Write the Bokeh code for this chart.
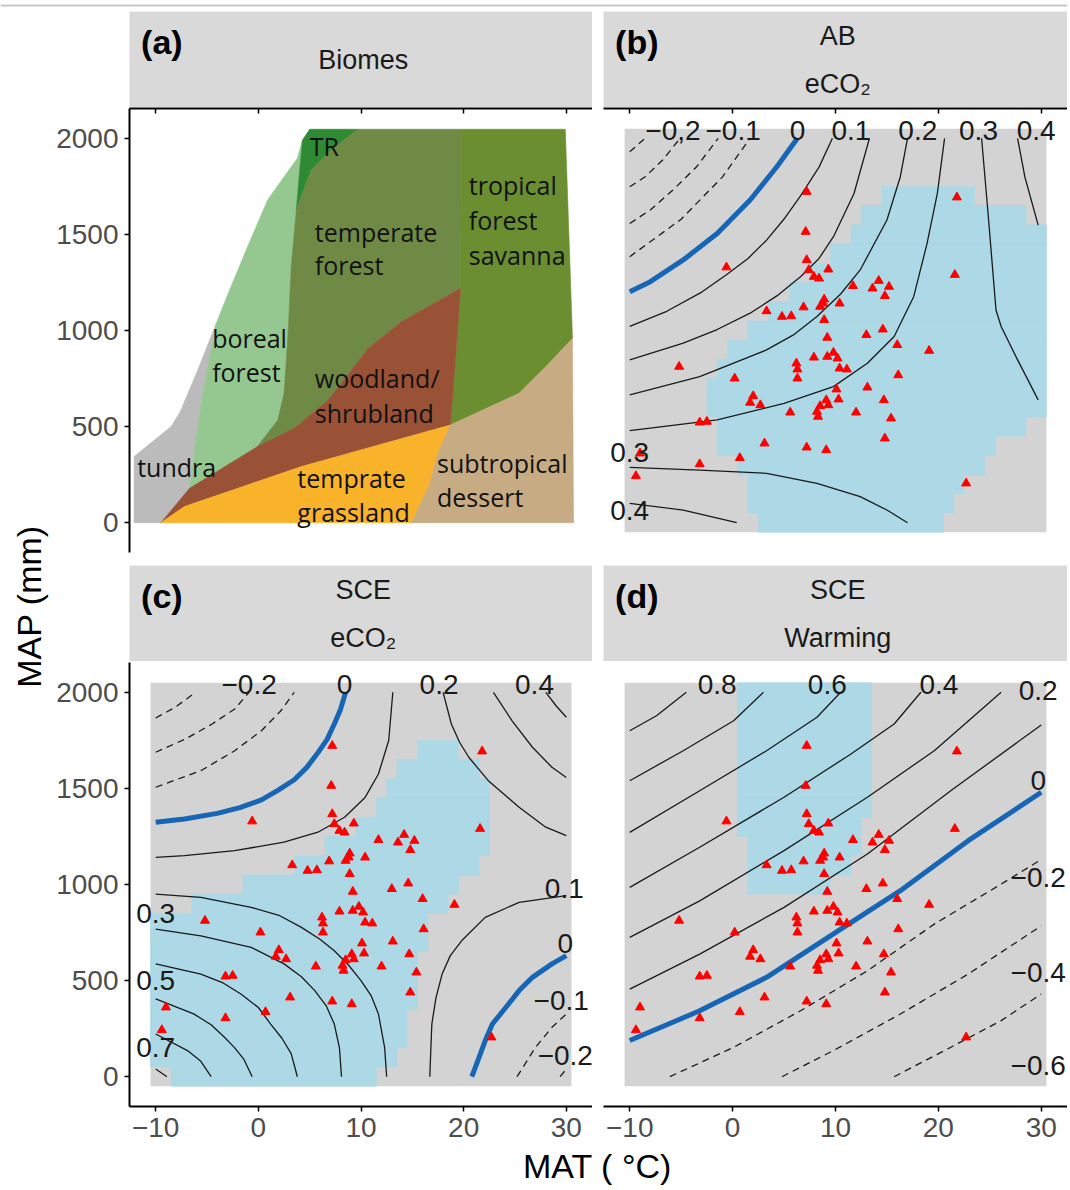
import math
from bokeh.plotting import figure
from bokeh.models import Range1d, LinearAxis, FixedTicker, Span
from bokeh.layouts import row, column
from bokeh.embed import file_html
from bokeh.resources import INLINE
from bokeh.core.properties import value

FONT = "Liberation Sans"
BIOME_FONT = "Open Sans"

# ---------------- axes ----------------
X_TICKS = [-10, 0, 10, 20, 30]
Y_TICKS = [0, 500, 1000, 1500, 2000]
X_LIM = (-12.55, 32.55)
Y_LIM = (-155, 2155)

# model grid: first centre, last centre, step
GRID_MAT = (-10, 30, 1)
GRID_MAP = (0, 2000, 100)

# ---------------- sites (MAT °C, MAP mm) ----------------
SITE_MAT = [7.2, 21.8, 7.1, -0.6, 7.2, 7.4, 9.3, 7.9, 8.4, 21.6,
            11.7, 14.2, 13.6, 15.2, 14.8, 8.9, 8.8, 10.4, 3.3, 4.8,
            5.7, 6.9, 8.5, 8.9, 14.6, 13.0, 9.2, 16.0, 19.1, 7.9,
            9.2, 9.8, 10.2, 6.2, 6.3, 10.4, 11.1, -5.2, 0.2, 6.3,
            16.1, 10.1, 13.1, 2.0, 1.7, 2.7, 10.3, 9.1, 9.3, 14.7,
            8.5, 8.2, 5.6, 12.0, 8.3, 15.4, -3.2, -2.5, 14.8, 3.1,
            7.2, 9.1, 0.7, -9.0, -3.2, -9.4, 22.7]
SITE_MAP = [1722, 1693, 1514, 1329, 1367, 1315, 1318, 1280, 1271, 1290,
            1232, 1259, 1219, 1228, 1180, 1162, 1141, 1141, 1101, 1072,
            1075, 1121, 1124, 1055, 1006, 977, 963, 925, 895, 860,
            864, 885, 855, 829, 798, 803, 798, 812, 751, 751,
            768, 694, 704, 659, 625, 612, 642, 638, 612, 638,
            607, 578, 574, 574, 552, 543, 522, 526, 439, 413,
            392, 378, 337, 361, 305, 243, 205]

# ---------------- (a) biomes ----------------
BIOME_NAMES = ["tundra", "boreal forest", "temperate rainforest", "temperate forest",
               "tropical forest savanna", "woodland/shrubland", "temperate grassland",
               "subtropical desert"]
BIOME_COLORS = ["#BBBBBB", "#95C891", "#2E8B33", "#6E8A45",
                "#6A8E30", "#9A5237", "#F8B32A", "#C7AB83"]
BIOME_MAT = [
    [-12.1, -12.1, -8.5, -7.6, -5.9, -4.1, -5.3, -6.1, -6.7, -9.5],
    [-6.7, -6.1, -5.3, -4.1, -2.8, -1.05, 0.9, 2.4, 3.8, 4.3, 4.0, 3.7, 3.2, 2.9, 2.5, 1.9, -0.1],
    [4.3, 5.0, 9.7, 7.1, 5.15, 3.7, 4.0],
    [9.7, 19.8, 19.7, 13.95, 10.7, 6.8, 3.5, -0.1, 1.9, 2.5, 2.9, 3.2, 3.7, 5.15, 7.1],
    [19.8, 29.9, 30.6, 28.0, 25.4, 18.7, 19.2, 19.7],
    [-9.5, -6.7, -0.1, 3.5, 6.8, 10.7, 13.95, 19.7, 19.2, 18.7, 4.2, -7.2],
    [-9.5, -7.2, 4.2, 18.7, 17.5, 16.6, 14.9],
    [14.9, 16.6, 17.5, 18.7, 25.4, 28.0, 30.6, 30.7],
]
BIOME_MAP = [
    [0, 344, 500, 578, 795, 1037, 707, 430, 179, 0],
    [179, 430, 707, 1037, 1211, 1436, 1679, 1792, 1896, 1991, 1818, 1627, 1332, 985, 673, 535, 396],
    [1991, 2047, 2047, 1939, 1835, 1627, 1818],
    [2047, 2047, 1220, 1046, 907, 638, 491, 396, 535, 673, 985, 1332, 1627, 1835, 1939],
    [2047, 2047, 959, 812, 673, 508, 846, 1220],
    [0, 179, 396, 491, 638, 907, 1046, 1220, 846, 508, 292, 84],
    [0, 84, 292, 508, 361, 188, 0],
    [0, 188, 361, 508, 673, 812, 959, 0],
]
BIOME_LABEL_TEXT = ["TR", "temperate", "forest", "tropical", "forest", "savanna",
                    "boreal", "forest", "woodland/", "shrubland", "tundra",
                    "temprate", "grassland", "subtropical", "dessert"]
BIOME_LABEL_MAT = [5.0, 5.5, 5.5, 20.5, 20.5, 20.5, -4.5, -4.5, 5.5, 5.5, -11.8,
                   3.8, 3.8, 17.4, 17.4]
BIOME_LABEL_MAP = [1960, 1514, 1341, 1757, 1575, 1393, 959, 786, 751, 569, 292,
                   231, 57, 309, 135]

# ---------------- (b) AB, eCO2 ----------------
B_MASK_MAP = [1700, 1600, 1500, 1400, 1300, 1200, 1100, 1000, 900, 800, 700, 600, 500, 400, 300, 200, 100, 0]
B_MASK_FIRST = [15, 13, 12, 10, 8, 6, 4, 2, 0, -1, -2, -2, -1, -1, 1, 2, 2, 3]
B_MASK_LAST = [23, 28, 30, 30, 30, 30, 30, 30, 30, 30, 30, 30, 28, 25, 24, 22, 21, 20]
B_LINE_LEVEL = [-0.2, -0.15, -0.1, -0.05, 0, 0.05, 0.1, 0.15, 0.2, 0.25, 0.3, 0.25, 0.3]
B_LINE_MAT = [
    [-10.0, -8.5],
    [-10.0, -8.5, -6.8, -5.1],
    [-10.0, -8.0, -5.8, -3.5, -1.4],
    [-10.0, -5.0, -1.0, 1.7],
    [-10.0, -8.0, -4.8, -1.5, 1.7, 4.3, 6.3],
    [-10.0, -6.4, -3.0, -0.6, 1.5, 3.3, 5.0, 6.6, 8.4, 9.7],
    [-10.0, -4.8, -1.5, 1.7, 4.3, 6.6, 8.4, 9.8, 11.8, 13.3],
    [-10.0, -3.2, 3.3, 6.0, 8.2, 10.5, 12.4, 15.0, 16.3, 17.0],
    [-10.0, -1.5, 5.0, 9.8, 13.1, 15.7, 17.6, 18.9, 19.9, 20.6],
    [-10.0, -3.2, 3.3, 8.2, 12.4, 15.0, 17.0],
    [-10.0, -4.8, 0.4],
    [24.2, 24.8, 25.6, 26.1, 27.7, 29.7],
    [27.7, 28.4, 29.7],
]
B_LINE_MAP = [
    [1930, 2000],
    [1748, 1800, 1887, 2000],
    [1557, 1627, 1731, 1852, 2000],
    [1384, 1579, 1798, 2000],
    [1202, 1254, 1367, 1505, 1679, 1852, 2000],
    [1021, 1100, 1200, 1290, 1375, 1470, 1580, 1700, 1850, 2000],
    [847, 934, 1005, 1090, 1180, 1280, 1375, 1488, 1713, 2000],
    [665, 760, 899, 980, 1073, 1190, 1315, 1575, 1800, 2000],
    [479, 535, 621, 708, 830, 969, 1176, 1453, 1713, 2000],
    [288, 274, 257, 205, 136, 66, 0],
    [101, 66, 0],
    [2000, 1627, 1107, 1021, 847, 639],
    [2000, 1800, 1548],
]
B_LABEL_TEXT = ["−0,2", "−0.1", "0", "0.1", "0.2", "0.3", "0.4", "0.3", "0.4"]
B_LABEL_MAT = [-5.8, 0.05, 6.3, 11.5, 18.0, 23.9, 29.5, -10.0, -10.0]
B_LABEL_MAP = [2043, 2043, 2043, 2043, 2043, 2043, 2043, 363, 61]

# ---------------- (c) SCE, eCO2 ----------------
C_MASK_MAP = [1700, 1600, 1500, 1400, 1300, 1200, 1100, 1000, 900, 800, 700, 600, 500, 400, 300, 200, 100, 0]
C_MASK_FIRST = [16, 14, 13, 12, 10, 7, 4, -1, -6, -10, -10, -10, -10, -10, -10, -10, -10, -8]
C_MASK_LAST = [19, 21, 22, 22, 22, 22, 21, 19, 18, 16, 16, 15, 15, 15, 14, 14, 13, 11]
C_LINE_LEVEL = [-0.3, -0.2, -0.1, 0, 0.1, 0.2, 0.3, 0.4, 0.5, 0.6, 0.7,
                0.2, 0.3, 0.4, 0.1, 0, -0.1, -0.2]
C_LINE_MAT = [
    [-10.0, -8.1, -6.1],
    [-10.0, -7.1, -4.5, -2.3, -0.9],
    [-10.0, -5.6, -2.3, 0.3, 2.2, 3.5],
    [-10.0, -7.2, -4.0, -1.8, 0.3, 1.9, 3.5, 4.7, 5.8, 6.7, 7.4, 8.0, 8.5],
    [-10.0, -7.2, -2.3, 2.5, 5.8, 8.4, 10.4, 11.7, 12.7, 13.1],
    [-10.0, -5.6, -0.7, 2.0, 4.2, 6.0, 7.4, 8.8, 10.0, 11.0, 11.7, 12.3, 12.5],
    [-10.0, -5.6, -0.7, 2.5, 4.2, 5.5, 6.6, 7.4, 7.9, 8.1],
    [-10.0, -5.6, -3.5, -1.7, 0.0, 1.2, 2.3, 3.2, 3.8],
    [-10.0, -6.3, -4.6, -3.3, -2.3, -1.4, -0.6],
    [-10.0, -6.9, -5.6, -4.6],
    [-10.0, -8.9],
    [18.0, 18.8, 19.6, 20.5, 22.4, 25.4, 28.0, 30.0],
    [22.9, 24.7, 26.7, 28.6, 30.0],
    [28.0, 29.0, 30.0],
    [16.7, 16.8, 16.9, 17.3, 17.9, 18.7, 19.8, 22.1, 25.4, 30.0],
    [20.8, 21.5, 22.1, 22.8, 24.1, 25.4, 26.7, 28.6, 30.0],
    [25.2, 27.0, 28.6, 30.0],
    [29.4, 30.0],
]
C_LINE_MAP = [
    [1866, 1922, 2000],
    [1688, 1757, 1835, 1913, 2000],
    [1506, 1592, 1696, 1800, 1904, 2000],
    [1324, 1341, 1370, 1400, 1440, 1490, 1545, 1608, 1685, 1755, 1835, 1910, 2000],
    [1141, 1150, 1176, 1220, 1272, 1350, 1453, 1575, 1749, 2000],
    [950, 933, 881, 840, 777, 715, 655, 580, 500, 420, 326, 153, 0],
    [768, 733, 673, 587, 520, 448, 370, 274, 150, 0],
    [587, 534, 490, 430, 360, 274, 200, 120, 0],
    [405, 327, 270, 205, 150, 90, 0],
    [222, 136, 80, 0],
    [40, 0],
    [2000, 1835, 1740, 1662, 1540, 1402, 1298, 1254],
    [2000, 1853, 1714, 1610, 1557],
    [2000, 1930, 1870],
    [0, 140, 274, 410, 534, 630, 707, 829, 907, 942],
    [0, 100, 188, 274, 360, 448, 517, 587, 630],
    [0, 153, 257, 326],
    [0, 40],
]
C_LABEL_TEXT = ["−0.2", "0", "0.2", "0.4", "0.1", "0", "−0.1", "−0.2", "0.3", "0.5", "0.7"]
C_LABEL_MAT = [-0.9, 8.4, 17.6, 26.9, 29.8, 29.9, 29.5, 29.9, -10.0, -10.0, -10.0]
C_LABEL_MAP = [2040, 2040, 2040, 2040, 978, 692, 395, 109, 848, 499, 151]

# ---------------- (d) SCE, warming ----------------
D_MASK_MAP = [2000, 1900, 1800, 1700, 1600, 1500, 1400, 1300, 1200, 1100, 1000]
D_MASK_FIRST = [1, 1, 1, 1, 1, 1, 1, 1, 2, 2, 2]
D_MASK_LAST = [13, 13, 13, 13, 13, 13, 13, 12, 12, 11, 9]
D_LINE_LEVEL = [0.6, 0.5, 0.4, 0.3, 0.2, 0.1, 0, -0.1, -0.2, -0.3]
D_LINE_MAT = [
    [-10.0, -7.4, -4.5],
    [-10.0, -4.8, 0.1, 3.0],
    [-10.0, -3.2, 3.3, 8.2, 10.5],
    [-10.0, -3.2, 5.0, 11.5, 15.7, 18.3],
    [-10.0, -3.2, 5.0, 13.1, 19.6, 26.1],
    [-10.0, -3.2, 5.0, 13.1, 21.2, 30.0],
    [-10.0, -3.2, 3.3, 9.8, 16.3, 22.9, 30.0],
    [-6.1, 0.1, 6.6, 13.1, 19.6, 26.1, 30.0],
    [4.8, 9.8, 16.3, 22.9, 30.0],
    [15.7, 21.2, 26.1, 30.0],
]
D_LINE_MAP = [
    [1800, 1878, 2000],
    [1540, 1696, 1852, 2000],
    [1271, 1488, 1696, 1870, 2000],
    [985, 1194, 1454, 1679, 1835, 2000],
    [725, 915, 1176, 1454, 1696, 2000],
    [456, 638, 881, 1159, 1488, 1830],
    [188, 343, 517, 743, 968, 1228, 1480],
    [0, 153, 343, 551, 794, 1002, 1130],
    [0, 136, 326, 534, 785],
    [0, 153, 292, 430],
]
D_LABEL_TEXT = ["0.8", "0.6", "0.4", "0.2", "0", "−0.2", "−0.4", "−0.6"]
D_LABEL_MAT = [-1.5, 9.2, 20.05, 29.7, 29.7, 29.7, 29.7, 29.7]
D_LABEL_MAP = [2040, 2040, 2040, 2008, 1540, 1037, 543, 57]

# ---------------- strips ----------------
STRIP_TAGS = ["(a)", "(b)", "(c)", "(d)"]
STRIP_LINES = [["Biomes"], ["AB", "eCO₂"], ["SCE", "eCO₂"], ["SCE", "Warming"]]

# ---------------- style / layout ----------------
FRAME_H = 444
LEFT_W, RIGHT_W = 463, 464
LEFT_PAD, GAP = 80, 11
TITLE_W = 49
TOP_H = 11
GRAY = "#D3D3D3"
STRIP_BG = "#D9D9D9"
SIG = "#ADD8E6"
BLUE = "#1766B5"
INK = "#1A1A1A"


def blank_fig(w, h, xr, yr):
    p = figure(frame_width=w, frame_height=h, x_range=Range1d(*xr), y_range=Range1d(*yr),
               min_border=0, x_axis_location=None, y_axis_location=None,
               output_backend="svg", toolbar_location=None)
    p.outline_line_color = None
    p.grid.visible = False
    return p


def panel_fig(left, frame_w, top, bottom):
    p = figure(frame_width=frame_w, frame_height=FRAME_H,
               x_range=Range1d(*X_LIM), y_range=Range1d(*Y_LIM),
               min_border_left=left, min_border_right=0,
               min_border_top=top, min_border_bottom=bottom,
               x_axis_location=None, y_axis_location=None,
               output_backend="svg", toolbar_location=None)
    p.outline_line_color = None
    p.grid.visible = False
    return p


def add_axis(p, side, labels=True, ticks_in=False):
    ticks = X_TICKS if side in ("above", "below") else Y_TICKS
    ax = LinearAxis(ticker=FixedTicker(ticks=ticks))
    ax.axis_line_color = "black"
    ax.axis_line_width = 2
    ax.major_tick_line_color = "black"
    ax.major_tick_line_width = 1.5
    ax.minor_tick_line_color = None
    ax.major_tick_in = 5 if ticks_in else 0
    ax.major_tick_out = 0 if ticks_in else 5
    if labels:
        ax.major_label_text_font = FONT
        ax.major_label_text_font_size = "28px"
        ax.major_label_text_color = "#4D4D4D"
        ax.major_label_standoff = 6
        ax.major_label_overrides = {t: str(t).replace("-", "−") for t in ticks if t < 0}
    else:
        ax.major_label_overrides = {t: "" for t in ticks}
        ax.major_label_text_font_size = "1px"
        ax.major_label_text_color = None
        ax.major_label_standoff = 0
    p.add_layout(ax, side)


def draw_surface(p, mask_map, mask_first, mask_last, levels, mats, maps,
                 lab_text, lab_mat, lab_map):
    t0, t1, dt = GRID_MAT
    m0, m1, dm = GRID_MAP
    p.quad(left=[t0 - dt / 2], right=[t1 + dt / 2], bottom=[m0 - dm / 2], top=[m1 + dm / 2],
           fill_color=GRAY, line_color=None)
    p.quad(left=[f - dt / 2 for f in mask_first], right=[l + dt / 2 for l in mask_last],
           bottom=[m - dm / 2 for m in mask_map], top=[m + dm / 2 for m in mask_map],
           fill_color=SIG, line_color=SIG, line_width=0.6)
    pos = [(x, y) for lv, x, y in zip(levels, mats, maps) if lv > 0]
    neg = [(x, y) for lv, x, y in zip(levels, mats, maps) if lv < 0]
    zero = [(x, y) for lv, x, y in zip(levels, mats, maps) if lv == 0]
    if pos:
        p.multi_line([a for a, b in pos], [b for a, b in pos], line_color=INK, line_width=1.3,
                     line_join="round")
    if neg:
        p.multi_line([a for a, b in neg], [b for a, b in neg], line_color=INK, line_width=1.3,
                     line_dash="7 5")
    if zero:
        p.multi_line([a for a, b in zero], [b for a, b in zero], line_color=BLUE, line_width=5,
                     line_join="round")
    p.scatter(SITE_MAT, SITE_MAP, marker="triangle", size=9,
              fill_color="#FF0000", line_color="#FF0000")
    p.text(lab_mat, lab_map, text=lab_text, text_font=value(FONT),
           text_font_size=value("28px"), text_color=INK,
           text_align="center", text_baseline="middle")


def strip_fig(left, frame_w, tag, lines):
    p = figure(frame_width=frame_w, frame_height=96,
               x_range=Range1d(0, 1), y_range=Range1d(0, 1),
               min_border_left=left, min_border_right=0,
               min_border_top=0, min_border_bottom=0,
               x_axis_location=None, y_axis_location=None,
               output_backend="svg", toolbar_location=None)
    p.outline_line_color = None
    p.grid.visible = False
    p.background_fill_color = STRIP_BG
    p.text([0.025], [0.68], text=[tag], text_font=value(FONT), text_font_size=value("34px"),
           text_font_style="bold", text_color="black", text_align="left",
           text_baseline="middle")
    ys = [0.5] if len(lines) == 1 else [0.74, 0.25]
    p.text([0.505] * len(lines), ys, text=lines, text_font=value(FONT),
           text_font_size=value("27px"), text_color=INK, text_align="center",
           text_baseline="middle")
    return p


# strips
sa = strip_fig(LEFT_PAD, LEFT_W, STRIP_TAGS[0], STRIP_LINES[0])
sb = strip_fig(GAP, RIGHT_W, STRIP_TAGS[1], STRIP_LINES[1])
sc = strip_fig(LEFT_PAD, LEFT_W, STRIP_TAGS[2], STRIP_LINES[2])
sd = strip_fig(GAP, RIGHT_W, STRIP_TAGS[3], STRIP_LINES[3])

# panel a
pa = panel_fig(LEFT_PAD, LEFT_W, 1, 13)
pa.patches(BIOME_MAT, BIOME_MAP, fill_color=BIOME_COLORS, line_color=BIOME_COLORS, line_width=0.6)
pa.text(BIOME_LABEL_MAT, BIOME_LABEL_MAP, text=BIOME_LABEL_TEXT, text_font=value(BIOME_FONT),
        text_font_size=value("25px"), text_color="#111111", text_align="left",
        text_baseline="middle")
add_axis(pa, "left")
add_axis(pa, "above", labels=False, ticks_in=True)

# panel b
pb = panel_fig(GAP, RIGHT_W, 1, 13)
draw_surface(pb, B_MASK_MAP, B_MASK_FIRST, B_MASK_LAST, B_LINE_LEVEL, B_LINE_MAT, B_LINE_MAP,
             B_LABEL_TEXT, B_LABEL_MAT, B_LABEL_MAP)
add_axis(pb, "above", labels=False, ticks_in=True)

# panel c
pc = panel_fig(LEFT_PAD, LEFT_W, 1, 38)
draw_surface(pc, C_MASK_MAP, C_MASK_FIRST, C_MASK_LAST, C_LINE_LEVEL, C_LINE_MAT, C_LINE_MAP,
             C_LABEL_TEXT, C_LABEL_MAT, C_LABEL_MAP)
add_axis(pc, "left")
add_axis(pc, "below")

# panel d
pd_ = panel_fig(GAP, RIGHT_W, 1, 38)
draw_surface(pd_, D_MASK_MAP, D_MASK_FIRST, D_MASK_LAST, D_LINE_LEVEL, D_LINE_MAT, D_LINE_MAP,
             D_LABEL_TEXT, D_LABEL_MAT, D_LABEL_MAP)
add_axis(pd_, "below")

# axis titles and page rule
XT_H = 44
BODY_H = 96 + (1 + FRAME_H + 13) + 96 + (1 + FRAME_H + 38) + XT_H
XT_W = LEFT_PAD + LEFT_W + GAP + RIGHT_W
PAGE_W = TITLE_W + XT_W

top = blank_fig(PAGE_W, TOP_H, (0, PAGE_W), (0, TOP_H))
top.add_layout(Span(location=TOP_H - 4, dimension="width", line_color="#C8C8C8", line_width=2))

yt = blank_fig(TITLE_W, BODY_H, (0, TITLE_W), (0, BODY_H))
yt.text([28], [BODY_H - (606 - TOP_H)], text=["MAP (mm)"], angle=math.pi / 2,
        text_font=value(FONT), text_font_size=value("34px"), text_color="black",
        text_align="center", text_baseline="middle")

xt = blank_fig(XT_W, XT_H, (0, XT_W), (0, XT_H))
xt.text([548], [XT_H - 21], text=["MAT ( °C)"], text_font=value(FONT),
        text_font_size=value("34px"), text_color="black", text_align="center",
        text_baseline="middle")

layout = column(top, row(yt, column(row(sa, sb), row(pa, pb), row(sc, sd), row(pc, pd_), xt)))

open("out.html", "w").write(file_html(layout, INLINE, title="Biomes and response surfaces"))
